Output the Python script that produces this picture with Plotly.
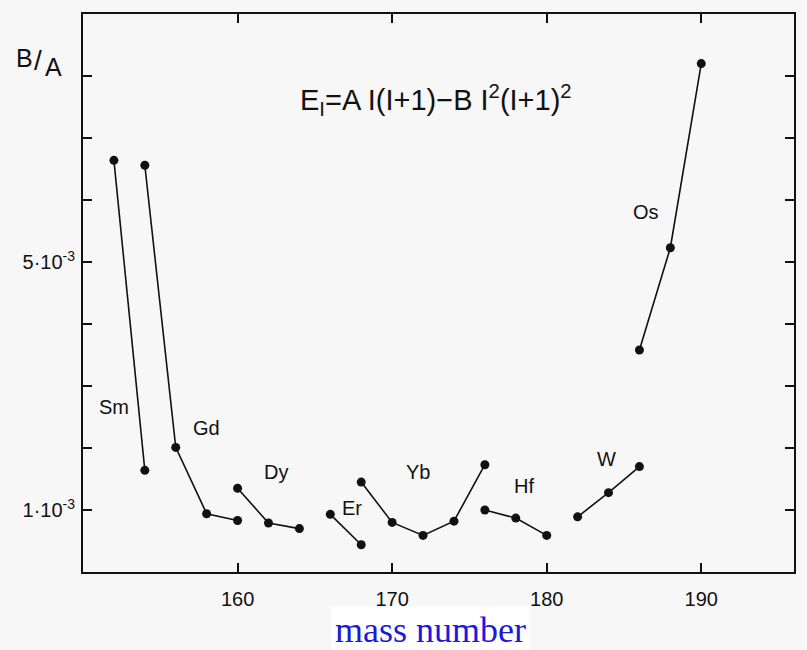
import plotly.graph_objects as go

# Data: mass number vs B/A for each element chain
series_names = ["Sm", "Gd", "Dy", "Er", "Yb", "Hf", "W", "Os"]
mass_sm = [152, 154]
ba_sm = [6.64e-3, 1.64e-3]
mass_gd = [154, 156, 158, 160]
ba_gd = [6.56e-3, 2.01e-3, 0.94e-3, 0.83e-3]
mass_dy = [160, 162, 164]
ba_dy = [1.35e-3, 0.79e-3, 0.70e-3]
mass_er = [166, 168]
ba_er = [0.93e-3, 0.44e-3]
mass_yb = [168, 170, 172, 174, 176]
ba_yb = [1.45e-3, 0.80e-3, 0.59e-3, 0.82e-3, 1.73e-3]
mass_hf = [176, 178, 180]
ba_hf = [1.00e-3, 0.87e-3, 0.59e-3]
mass_w = [182, 184, 186]
ba_w = [0.89e-3, 1.28e-3, 1.70e-3]
mass_os = [186, 188, 190]
ba_os = [3.58e-3, 5.23e-3, 8.20e-3]

# Element label placements (data coordinates)
label_x = [152.0, 158.0, 162.5, 167.4, 171.7, 178.5, 183.9, 186.4]
label_y = [2.66e-3, 2.32e-3, 1.61e-3, 1.03e-3, 1.62e-3, 1.38e-3, 1.82e-3, 5.81e-3]

x_tickvals = [160, 170, 180, 190]
x_ticktext = ["160", "170", "180", "190"]
y_tickvals = [1e-3, 2e-3, 3e-3, 4e-3, 5e-3, 6e-3, 7e-3, 8e-3]
y_ticktext = ["1·10<sup>-3</sup>", "", "", "", "5·10<sup>-3</sup>", "", "", ""]

FONT = "Liberation Sans"
INK = "#111111"
BG = "#f7f7f7"

fig = go.Figure()
all_series = [
    (mass_sm, ba_sm), (mass_gd, ba_gd), (mass_dy, ba_dy), (mass_er, ba_er),
    (mass_yb, ba_yb), (mass_hf, ba_hf), (mass_w, ba_w), (mass_os, ba_os),
]
for name, (xs, ys) in zip(series_names, all_series):
    fig.add_trace(go.Scatter(
        x=xs, y=ys, mode="lines+markers", name=name,
        line=dict(color=INK, width=1.6),
        marker=dict(color=INK, size=9),
        showlegend=False,
    ))

for name, lx, ly in zip(series_names, label_x, label_y):
    fig.add_annotation(x=lx, y=ly, text=name, showarrow=False,
                       xanchor="center", yanchor="middle",
                       font=dict(family=FONT, size=20, color=INK))

fig.add_annotation(x=172.85, y=7.61e-3,
                   text="E<sub>I</sub>=A I(I+1)−B I<sup>2</sup>(I+1)<sup>2</sup>",
                   showarrow=False, xanchor="center", yanchor="middle",
                   font=dict(family=FONT, size=29, color=INK))

fig.update_layout(
    width=807, height=650,
    margin=dict(l=83, r=13, t=14, b=77.5),
    paper_bgcolor=BG, plot_bgcolor=BG,
    font=dict(family=FONT, size=19, color=INK),
    xaxis=dict(range=[150, 196], tickvals=x_tickvals, ticktext=x_ticktext,
               ticks="inside", ticklen=9, tickwidth=1.6, tickcolor=INK,
               tickfont=dict(family=FONT, size=20, color=INK),
               showline=True, linecolor=INK, linewidth=2, mirror="ticks",
               showgrid=False, zeroline=False, ticklabelstandoff=8),
    yaxis=dict(range=[0, 9e-3], tickvals=y_tickvals, ticktext=y_ticktext,
               ticks="inside", ticklen=9, tickwidth=1.6, tickcolor=INK,
               tickfont=dict(family=FONT, size=20, color=INK),
               showline=True, linecolor=INK, linewidth=2, mirror="ticks",
               showgrid=False, zeroline=False, ticklabelstandoff=2),
)

pw, ph = 807 - 83 - 13, 650 - 14 - 77.5
def px(xpix):
    return (xpix - 83) / pw
def py(ypix):
    return (650 - 77.5 - ypix) / ph

fig.add_annotation(x=px(24), y=py(58), xref="paper", yref="paper", text="B",
                   showarrow=False, xanchor="center", yanchor="middle",
                   font=dict(family=FONT, size=25, color=INK))
fig.add_annotation(x=px(38), y=py(61), xref="paper", yref="paper", text="/",
                   showarrow=False, xanchor="center", yanchor="middle",
                   font=dict(family=FONT, size=28, color=INK))
fig.add_annotation(x=px(53), y=py(67), xref="paper", yref="paper", text="A",
                   showarrow=False, xanchor="center", yanchor="middle",
                   font=dict(family=FONT, size=25, color=INK))

fig.add_annotation(x=px(430), y=py(631), xref="paper", yref="paper", text="mass number",
                   showarrow=False, bgcolor="white", borderpad=3,
                   xanchor="center", yanchor="middle",
                   font=dict(family="Liberation Serif", size=36, color="#1a1adc"))

fig.write_html("out.html")
